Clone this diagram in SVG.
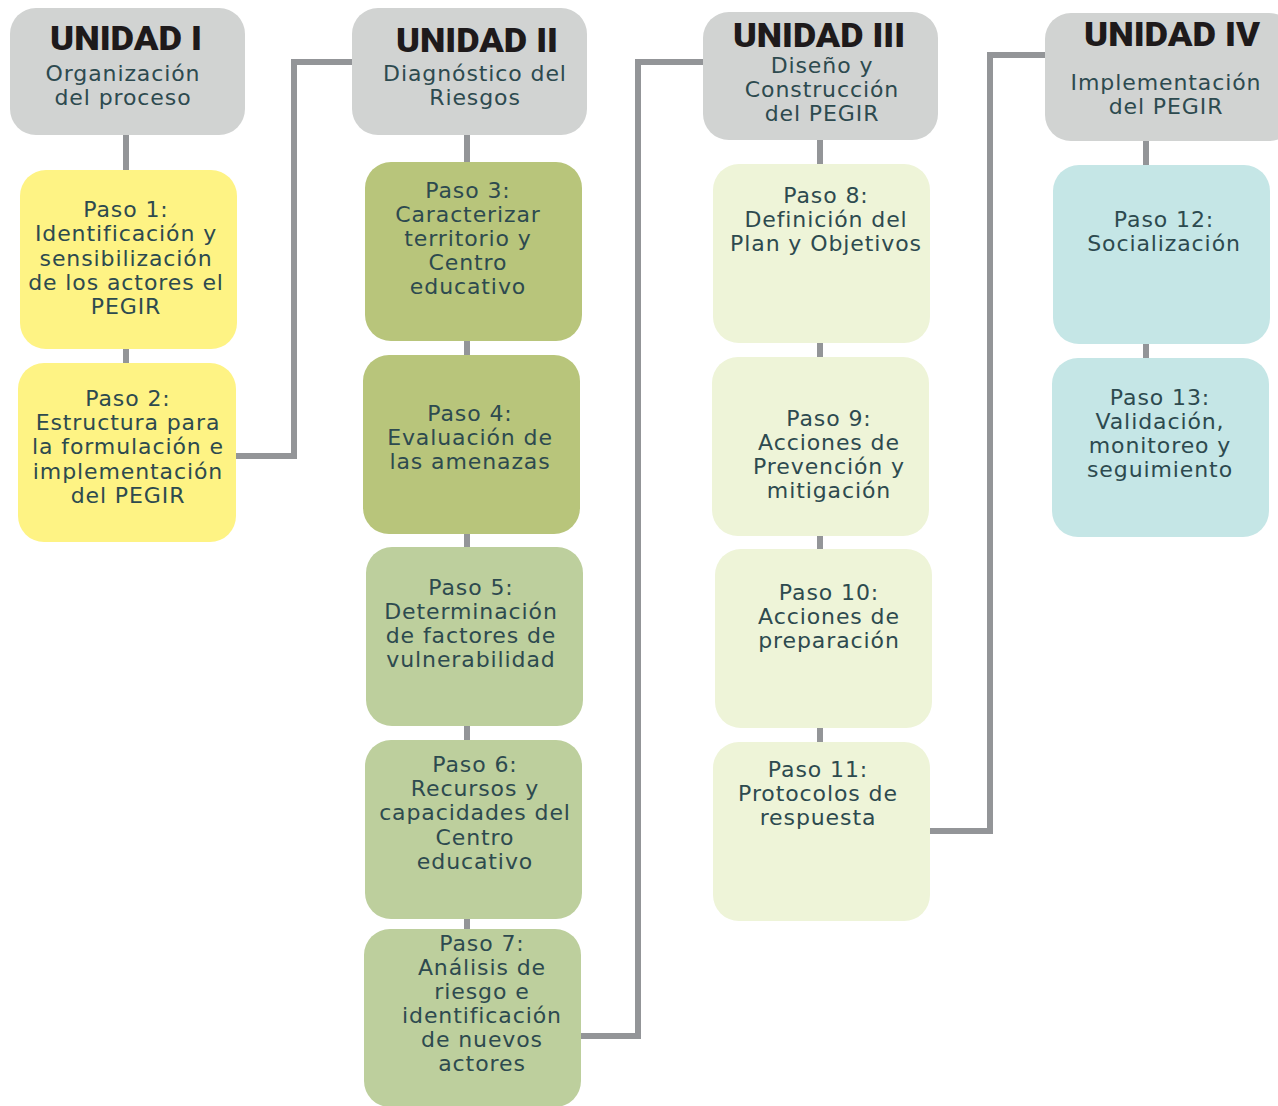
<svg xmlns="http://www.w3.org/2000/svg" width="1278" height="1106" viewBox="0 0 1278 1106">
<style>
.hdr{fill:#d1d3d2}
.y{fill:#fef384}
.g1{fill:#b8c57b}
.g2{fill:#bdcf9d}
.g3{fill:#eef4d8}
.b{fill:#c5e6e6}
.t{font-family:"DejaVu Sans","Liberation Sans",sans-serif;font-size:22px;letter-spacing:0.9px;fill:#2d4a4f;text-anchor:middle}
.h{font-family:Roboto,"DejaVu Sans",sans-serif;font-weight:900;font-size:33px;fill:#1e1a1b;text-anchor:middle}
.c{fill:none;stroke:#939598;stroke-width:6}
</style>
<g id="connectors">
<line class="c" x1="126" y1="135" x2="126" y2="172"/>
<line class="c" x1="126" y1="348" x2="126" y2="365"/>
<polyline class="c" points="236,456 294,456 294,62 354,62"/>
<line class="c" x1="467" y1="135" x2="467" y2="164"/>
<line class="c" x1="467" y1="340" x2="467" y2="357"/>
<line class="c" x1="467" y1="533" x2="467" y2="549"/>
<line class="c" x1="467" y1="725" x2="467" y2="742"/>
<line class="c" x1="467" y1="918" x2="467" y2="931"/>
<polyline class="c" points="580,1036 638,1036 638,62 705,62"/>
<line class="c" x1="820" y1="139" x2="820" y2="166"/>
<line class="c" x1="820" y1="342" x2="820" y2="359"/>
<line class="c" x1="820" y1="535" x2="820" y2="551"/>
<line class="c" x1="820" y1="727" x2="820" y2="744"/>
<polyline class="c" points="929,831 990,831 990,55 1047,55"/>
<line class="c" x1="1146" y1="140" x2="1146" y2="167"/>
<line class="c" x1="1146" y1="343" x2="1146" y2="360"/>
</g>
<g id="u1">
<rect class="hdr" x="10" y="8" width="235" height="127" rx="26"/>
<text class="h" x="126" y="50" textLength="152" lengthAdjust="spacingAndGlyphs">UNIDAD I</text>
<text class="t" x="123" y="81">Organización</text>
<text class="t" x="123" y="105">del proceso</text>
</g>
<g id="p1">
<rect class="y" x="20" y="170" width="217" height="179" rx="26"/>
<text class="t" x="126" y="217">Paso 1:</text>
<text class="t" x="126" y="241">Identificación y</text>
<text class="t" x="126" y="266">sensibilización</text>
<text class="t" x="126" y="290">de los actores el</text>
<text class="t" x="126" y="314">PEGIR</text>
</g>
<g id="p2">
<rect class="y" x="18" y="363" width="218" height="179" rx="26"/>
<text class="t" x="128" y="406">Paso 2:</text>
<text class="t" x="128" y="430">Estructura para</text>
<text class="t" x="128" y="454">la formulación e</text>
<text class="t" x="128" y="479">implementación</text>
<text class="t" x="128" y="503">del PEGIR</text>
</g>
<g id="u2">
<rect class="hdr" x="352" y="8" width="235" height="127" rx="26"/>
<text class="h" x="477" y="52" textLength="162" lengthAdjust="spacingAndGlyphs">UNIDAD II</text>
<text class="t" x="475" y="81">Diagnóstico del</text>
<text class="t" x="475" y="105">Riesgos</text>
</g>
<g id="p3">
<rect class="g1" x="365" y="162" width="217" height="179" rx="26"/>
<text class="t" x="468" y="198">Paso 3:</text>
<text class="t" x="468" y="222">Caracterizar</text>
<text class="t" x="468" y="246">territorio y</text>
<text class="t" x="468" y="270">Centro</text>
<text class="t" x="468" y="294">educativo</text>
</g>
<g id="p4">
<rect class="g1" x="363" y="355" width="217" height="179" rx="26"/>
<text class="t" x="470" y="421">Paso 4:</text>
<text class="t" x="470" y="445">Evaluación de</text>
<text class="t" x="470" y="469">las amenazas</text>
</g>
<g id="p5">
<rect class="g2" x="366" y="547" width="217" height="179" rx="26"/>
<text class="t" x="471" y="595">Paso 5:</text>
<text class="t" x="471" y="619">Determinación</text>
<text class="t" x="471" y="643">de factores de</text>
<text class="t" x="471" y="667">vulnerabilidad</text>
</g>
<g id="p6">
<rect class="g2" x="365" y="740" width="217" height="179" rx="26"/>
<text class="t" x="475" y="772">Paso 6:</text>
<text class="t" x="475" y="796">Recursos y</text>
<text class="t" x="475" y="820">capacidades del</text>
<text class="t" x="475" y="845">Centro</text>
<text class="t" x="475" y="869">educativo</text>
</g>
<g id="p7">
<rect class="g2" x="364" y="929" width="217" height="178" rx="26"/>
<text class="t" x="482" y="951">Paso 7:</text>
<text class="t" x="482" y="975">Análisis de</text>
<text class="t" x="482" y="999">riesgo e</text>
<text class="t" x="482" y="1023">identificación</text>
<text class="t" x="482" y="1047">de nuevos</text>
<text class="t" x="482" y="1071">actores</text>
</g>
<g id="u3">
<rect class="hdr" x="703" y="12" width="235" height="128" rx="26"/>
<text class="h" x="819" y="47" textLength="172" lengthAdjust="spacingAndGlyphs">UNIDAD III</text>
<text class="t" x="822" y="73">Diseño y</text>
<text class="t" x="822" y="97">Construcción</text>
<text class="t" x="822" y="121">del PEGIR</text>
</g>
<g id="p8">
<rect class="g3" x="713" y="164" width="217" height="179" rx="26"/>
<text class="t" x="826" y="203">Paso 8:</text>
<text class="t" x="826" y="227">Definición del</text>
<text class="t" x="826" y="251">Plan y Objetivos</text>
</g>
<g id="p9">
<rect class="g3" x="712" y="357" width="217" height="179" rx="26"/>
<text class="t" x="829" y="426">Paso 9:</text>
<text class="t" x="829" y="450">Acciones de</text>
<text class="t" x="829" y="474">Prevención y</text>
<text class="t" x="829" y="498">mitigación</text>
</g>
<g id="p10">
<rect class="g3" x="715" y="549" width="217" height="179" rx="26"/>
<text class="t" x="829" y="600">Paso 10:</text>
<text class="t" x="829" y="624">Acciones de</text>
<text class="t" x="829" y="648">preparación</text>
</g>
<g id="p11">
<rect class="g3" x="713" y="742" width="217" height="179" rx="26"/>
<text class="t" x="818" y="777">Paso 11:</text>
<text class="t" x="818" y="801">Protocolos de</text>
<text class="t" x="818" y="825">respuesta</text>
</g>
<g id="u4">
<rect class="hdr" x="1045" y="13" width="250" height="128" rx="26"/>
<text class="h" x="1172" y="46" textLength="176" lengthAdjust="spacingAndGlyphs">UNIDAD IV</text>
<text class="t" x="1166" y="90">Implementación</text>
<text class="t" x="1166" y="114">del PEGIR</text>
</g>
<g id="p12">
<rect class="b" x="1053" y="165" width="217" height="179" rx="26"/>
<text class="t" x="1164" y="227">Paso 12:</text>
<text class="t" x="1164" y="251">Socialización</text>
</g>
<g id="p13">
<rect class="b" x="1052" y="358" width="217" height="179" rx="26"/>
<text class="t" x="1160" y="405">Paso 13:</text>
<text class="t" x="1160" y="429">Validación,</text>
<text class="t" x="1160" y="453">monitoreo y</text>
<text class="t" x="1160" y="477">seguimiento</text>
</g>
</svg>
